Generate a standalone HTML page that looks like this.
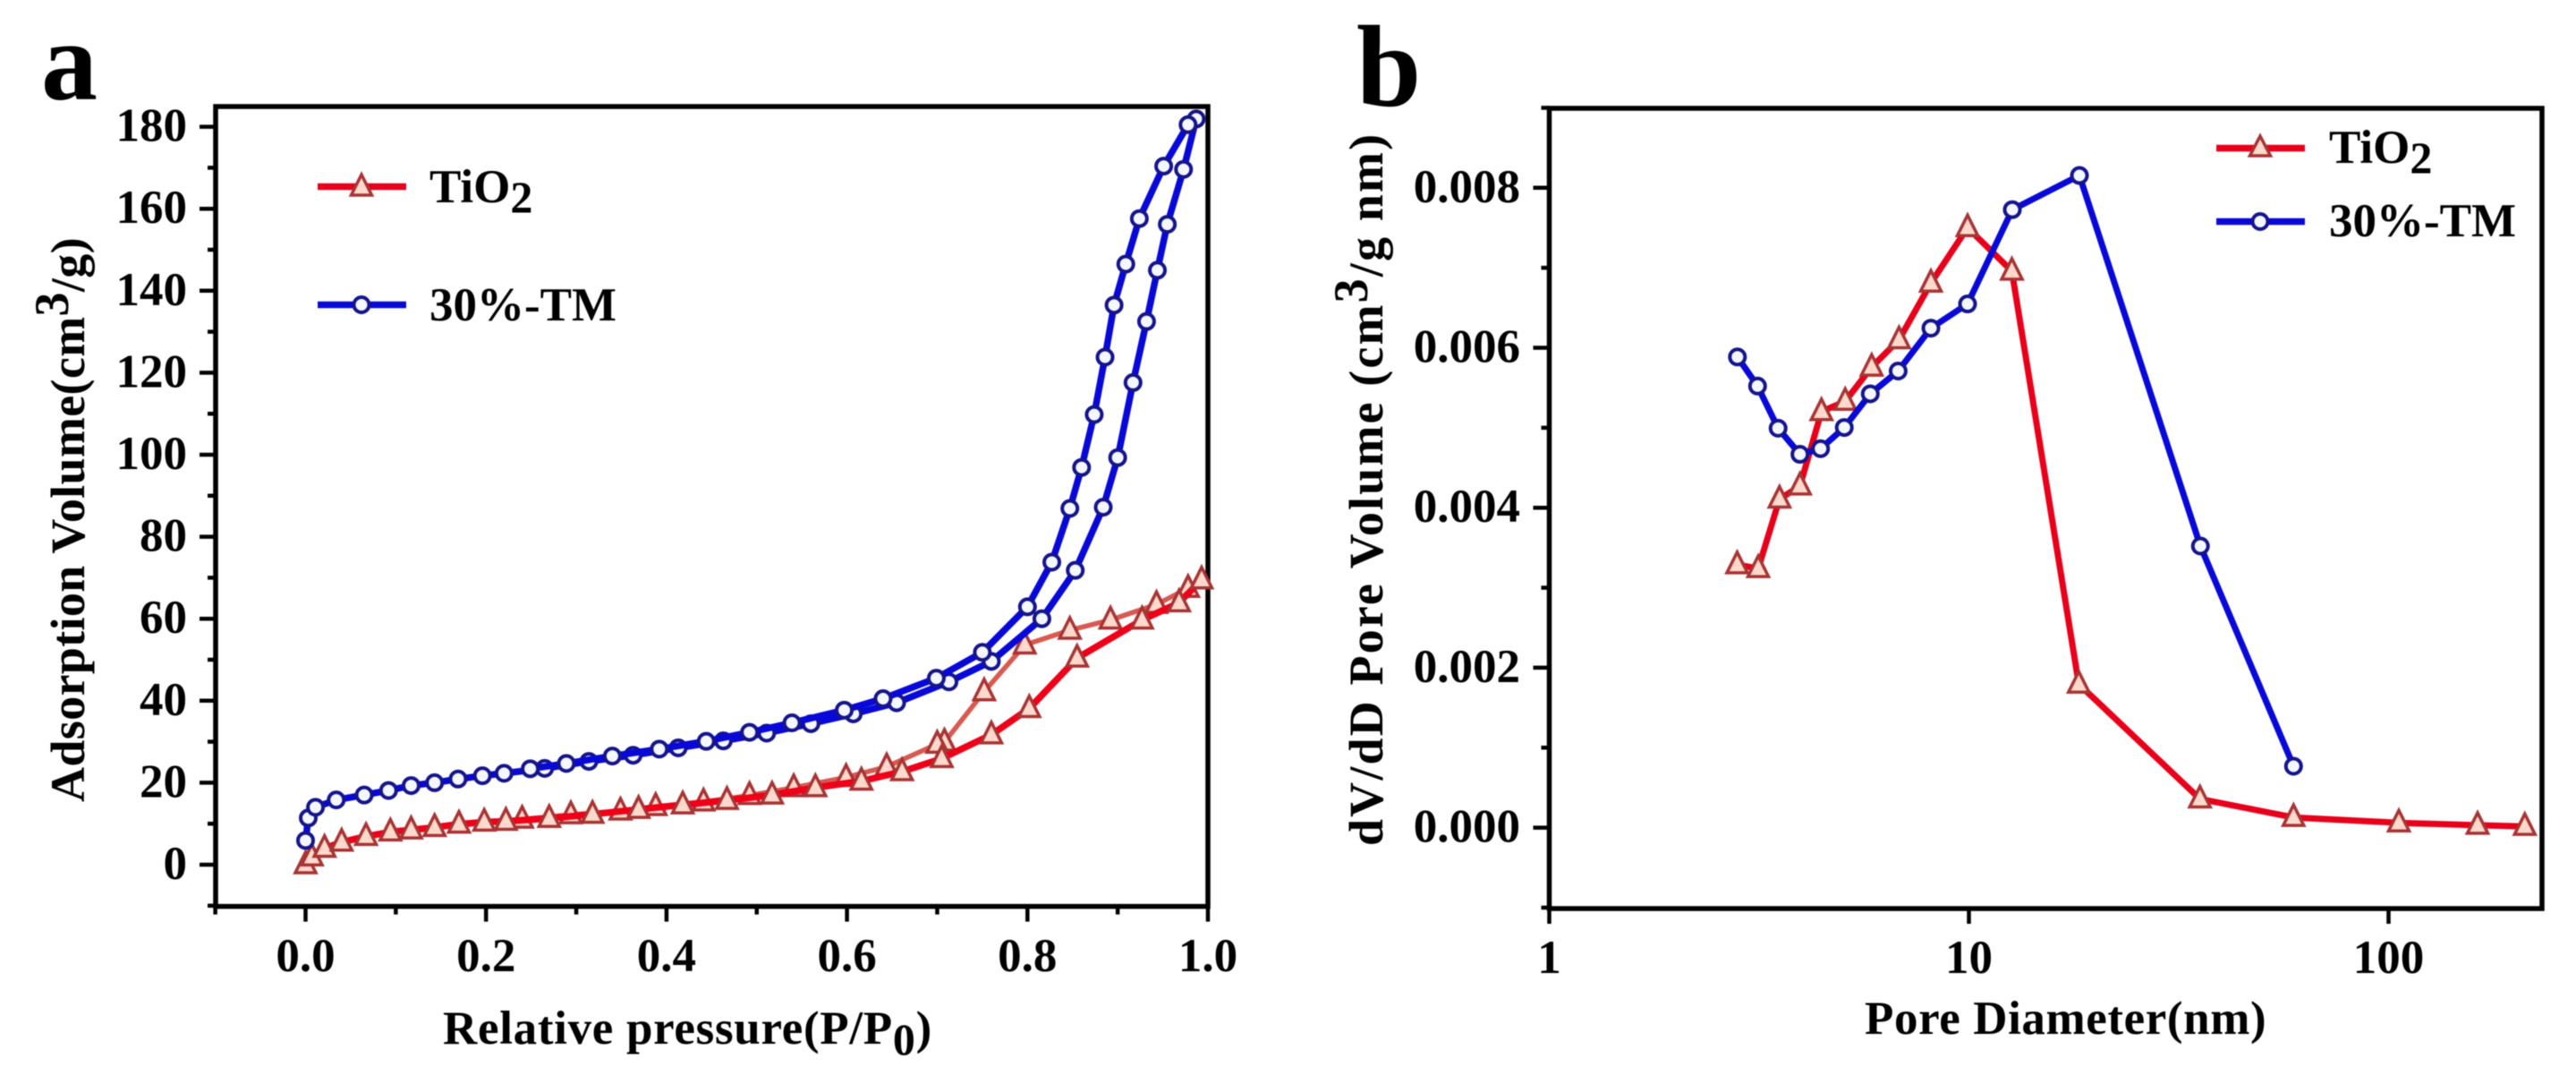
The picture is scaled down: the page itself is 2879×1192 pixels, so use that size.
<!DOCTYPE html>
<html lang="en">
<head>
<meta charset="utf-8">
<title>Adsorption isotherms and pore size distribution</title>
<style>
html,body{margin:0;padding:0;background:#fff;}
svg{display:block;filter:blur(0.6px);}
text{font-family:"Liberation Serif","DejaVu Serif",serif;font-weight:bold;fill:#000;}
</style>
</head>
<body>
<svg id="figure" xmlns="http://www.w3.org/2000/svg" width="2879" height="1192" viewBox="0 0 2879 1192">
  <rect x="0" y="0" width="2879" height="1192" fill="#ffffff"/>
  <text x="46" y="111" font-size="126">a</text>
  <text x="1516" y="118" font-size="130">b</text>

  <text x="495" y="1166" font-size="53" letter-spacing="0.7">Relative pressure(P/P<tspan dy="12" font-size="50">0</tspan><tspan dy="-12">)</tspan></text>
  <text transform="translate(94 896) rotate(-90)" font-size="54" letter-spacing="0.35">Adsorption Volume(cm<tspan dy="-18">3</tspan><tspan dy="18">/g)</tspan></text>
  <text x="2084" y="1155" font-size="53" letter-spacing="0.6">Pore Diameter(nm)</text>
  <text transform="translate(1545 945) rotate(-90)" font-size="54" letter-spacing="2.15">dV/dD Pore Volume (cm<tspan dy="-17">3</tspan><tspan dy="17">/g nm)</tspan></text>

  <g id="panel-a"></g>
  <g id="panel-b"></g>

  <g>
    <g>
      <line x1="355" y1="208.5" x2="454" y2="208.5" stroke="#e8001a" stroke-width="7.5"/>
      <polygon points="404,195 415.5,218 392.5,218" fill="#ffd9cc" stroke="#a83434" stroke-width="3.5"/>
      <text x="480" y="226" font-size="53">TiO<tspan dy="11" font-size="50">2</tspan></text>
    </g>
    <g>
      <line x1="355" y1="340.5" x2="454" y2="340.5" stroke="#0808d8" stroke-width="7.5"/>
      <circle cx="404" cy="340.5" r="8.5" fill="#f5f7ff" stroke="#14148c" stroke-width="4"/>
      <text x="480" y="358" font-size="53">30%-TM</text>
    </g>
  </g>
  <g>
    <g>
      <line x1="2477" y1="165.5" x2="2576" y2="165.5" stroke="#e8001a" stroke-width="7.5"/>
      <polygon points="2526,152 2537.5,174 2514.5,174" fill="#ffd9cc" stroke="#a83434" stroke-width="3.5"/>
      <text x="2603" y="182" font-size="53">TiO<tspan dy="11" font-size="50">2</tspan></text>
    </g>
    <g>
      <line x1="2477" y1="247.5" x2="2576" y2="247.5" stroke="#0808d8" stroke-width="7.5"/>
      <circle cx="2526" cy="247.5" r="8.5" fill="#f5f7ff" stroke="#14148c" stroke-width="4"/>
      <text x="2603" y="264" font-size="53">30%-TM</text>
    </g>
  </g>
</svg>
<script>
// Panel a: tick values and labels
const isoXMajor = [0, 0.2, 0.4, 0.6, 0.8, 1.0];
const isoXLabels = ['0.0', '0.2', '0.4', '0.6', '0.8', '1.0'];
const isoXMinor = [-0.1, 0.1, 0.3, 0.5, 0.7, 0.9];
const isoYMajor = [0, 20, 40, 60, 80, 100, 120, 140, 160, 180];
const isoYLabels = ['0', '20', '40', '60', '80', '100', '120', '140', '160', '180'];
const isoYMinor = [-10, 10, 30, 50, 70, 90, 110, 130, 150, 170];

// Panel a: TiO2 adsorption / desorption
const tio2AdsP = [0.000, 0.007, 0.021, 0.040, 0.067, 0.094, 0.117, 0.143, 0.170, 0.198, 0.222, 0.270, 0.318, 0.369, 0.418, 0.467, 0.517, 0.565, 0.616, 0.661, 0.705, 0.760, 0.802, 0.855, 0.927, 0.968, 0.993];
const tio2AdsV = [0.0, 1.9, 4.0, 5.5, 6.9, 8.0, 8.5, 9.1, 9.9, 10.4, 10.6, 11.3, 12.3, 13.5, 14.6, 15.7, 17.0, 18.8, 20.4, 22.7, 25.9, 31.7, 38.1, 50.4, 59.7, 63.9, 69.5];
const tio2DesP = [0.978, 0.943, 0.892, 0.847, 0.797, 0.752, 0.708, 0.700, 0.644, 0.599, 0.541, 0.492, 0.441, 0.388, 0.349, 0.294, 0.240];
const tio2DesV = [67.4, 63.5, 59.7, 57.2, 53.6, 42.2, 29.9, 29.4, 23.9, 21.3, 18.8, 16.9, 15.3, 14.2, 13.1, 12.2, 11.1];

// Panel a: 30%-TM adsorption / desorption
const tmAdsP = [0.000, 0.003, 0.011, 0.034, 0.065, 0.092, 0.117, 0.143, 0.169, 0.196, 0.220, 0.265, 0.314, 0.363, 0.413, 0.463, 0.511, 0.560, 0.607, 0.655, 0.713, 0.760, 0.816, 0.853, 0.884, 0.900, 0.917, 0.932, 0.944, 0.955, 0.973, 0.987];
const tmAdsV = [5.9, 11.4, 14.0, 15.8, 17.0, 18.1, 19.3, 20.0, 20.9, 21.7, 22.3, 23.5, 25.2, 26.7, 28.5, 30.2, 32.1, 34.4, 36.8, 39.5, 44.6, 49.6, 60.0, 71.8, 87.2, 99.3, 117.6, 132.5, 145.0, 156.2, 169.6, 181.9];
const tmDesP = [0.978, 0.951, 0.924, 0.909, 0.896, 0.886, 0.874, 0.860, 0.847, 0.827, 0.800, 0.750, 0.699, 0.640, 0.597, 0.539, 0.492, 0.444, 0.392, 0.340, 0.289, 0.249];
const tmDesV = [180.5, 170.4, 157.6, 146.5, 136.5, 123.8, 109.8, 96.9, 86.9, 73.8, 62.9, 51.8, 45.5, 40.5, 37.7, 34.6, 32.3, 30.1, 28.2, 26.5, 24.7, 23.4];

// Panel b: tick values and labels
const poreXMajor = [1, 10, 100];
const poreXLabels = ['1', '10', '100'];
const poreYMajor = [0, 0.002, 0.004, 0.006, 0.008];
const poreYLabels = ['0.000', '0.002', '0.004', '0.006', '0.008'];
const poreYMinor = [-0.001, 0.001, 0.003, 0.005, 0.007, 0.009];

// Panel b: pore size distributions
const tio2PoreD = [2.804, 3.147, 3.537, 3.957, 4.453, 5.072, 5.865, 6.815, 8.118, 9.926, 12.66, 18.27, 35.53, 59.37, 105.8, 163, 211.2];
const tio2PoreV = [0.003288, 0.003240, 0.004108, 0.004272, 0.005202, 0.005331, 0.005758, 0.006101, 0.006808, 0.007502, 0.006958, 0.001795, 0.000359, 0.000128, 0.000060, 0.000030, 0.000016];
const tmPoreD = [2.808, 3.136, 3.510, 3.957, 4.431, 5.047, 5.821, 6.783, 8.118, 9.926, 12.69, 18.34, 35.62, 59.37];
const tmPoreV = [0.005885, 0.005521, 0.004994, 0.004668, 0.004738, 0.005003, 0.005424, 0.005709, 0.006245, 0.006548, 0.007727, 0.008154, 0.003521, 0.000768];

// Axis functions
const isoBox = {left: 241, right: 1350, top: 119, bottom: 1012.6};
const poreBox = {left: 1731.5, right: 2841, top: 121, bottom: 1015};
function isoX(p) { return 341.5 + p * 1008.5; }
function isoY(v) { return 966 - v * 4.58; }
function poreX(d) { return 1731.5 + Math.log10(d) * 469; }
function poreY(v) { return 924.6 - v * 89350; }

const NS = 'http://www.w3.org/2000/svg';
function make(tag, attrs, parent) {
  const node = document.createElementNS(NS, tag);
  for (const key in attrs) node.setAttribute(key, attrs[key]);
  parent.appendChild(node);
  return node;
}

function drawFrame(parent, box, prefix) {
  const frame = make('rect', {x: box.left, y: box.top, width: box.right - box.left, height: box.bottom - box.top, fill: 'none', stroke: '#000', 'stroke-width': 5.5}, parent);
  
  
}

function drawXTicks(parent, box, values, labels, scale, length, baseline, prefix) {
  values.forEach(function (value, i) {
    const px = scale(value);
    const tick = make('line', {x1: px, x2: px, y1: box.bottom, y2: box.bottom + length, stroke: '#000', 'stroke-width': 4.5}, parent);
    
    
    if (labels) {
      const label = make('text', {x: px, y: baseline, 'font-size': 53, 'text-anchor': 'middle'}, parent);
      label.textContent = labels[i];
      
      
    }
  });
}

function drawYTicks(parent, box, values, labels, scale, length, labelRight, prefix) {
  values.forEach(function (value, i) {
    const py = scale(value);
    const tick = make('line', {x1: box.left - length, x2: box.left, y1: py, y2: py, stroke: '#000', 'stroke-width': 4.5}, parent);
    
    
    if (labels) {
      const label = make('text', {x: labelRight, y: py + 16, 'font-size': 53, 'text-anchor': 'end'}, parent);
      label.textContent = labels[i];
      
      
    }
  });
}

function drawSeries(parent, xs, ys, scaleX, scaleY, color, width, marker, name) {
  const points = xs.map(function (x, i) { return scaleX(x).toFixed(1) + ',' + scaleY(ys[i]).toFixed(1); }).join(' ');
  const line = make('polyline', {points: points, fill: 'none', stroke: color, 'stroke-width': width, 'stroke-linejoin': 'round'}, parent);
  
  
  xs.forEach(function (x, i) {
    const px = scaleX(x);
    const py = scaleY(ys[i]);
    let mark;
    if (marker === 'triangle') {
      mark = make('polygon', {points: px + ',' + (py - 14) + ' ' + (px + 11.5) + ',' + (py + 9) + ' ' + (px - 11.5) + ',' + (py + 9), fill: '#ffd9cc', stroke: '#a83434', 'stroke-width': 3.5}, parent);
    } else {
      mark = make('circle', {cx: px, cy: py, r: 8.5, fill: '#f5f7ff', stroke: '#14148c', 'stroke-width': 4}, parent);
    }
    
    
  });
}

const panelA = document.getElementById('panel-a');
drawYTicks(panelA, isoBox, isoYMinor, null, isoY, 9, 0, 'isotherm-minor');
drawYTicks(panelA, isoBox, isoYMajor, isoYLabels, isoY, 18, 209, 'isotherm');
drawXTicks(panelA, isoBox, isoXMinor, null, isoX, 9, 0, 'isotherm-minor');
drawXTicks(panelA, isoBox, isoXMajor, isoXLabels, isoX, 17, 1085, 'isotherm');
drawFrame(panelA, isoBox, 'isotherm');
drawSeries(panelA, tio2DesP, tio2DesV, isoX, isoY, '#d85a50', 5.5, 'triangle', 'tio2-desorption');
drawSeries(panelA, tio2AdsP, tio2AdsV, isoX, isoY, '#f00018', 7.5, 'triangle', 'tio2-adsorption');
drawSeries(panelA, tmAdsP, tmAdsV, isoX, isoY, '#0808d8', 7.5, 'circle', 'tm-adsorption');
drawSeries(panelA, tmDesP, tmDesV, isoX, isoY, '#0808d8', 7.5, 'circle', 'tm-desorption');

const panelB = document.getElementById('panel-b');
drawYTicks(panelB, poreBox, poreYMinor, null, poreY, 9, 0, 'pore-minor');
drawYTicks(panelB, poreBox, poreYMajor, poreYLabels, poreY, 18, 1699, 'pore');
drawXTicks(panelB, poreBox, poreXMajor, poreXLabels, poreX, 17, 1087, 'pore');
drawFrame(panelB, poreBox, 'pore');
drawSeries(panelB, tio2PoreD, tio2PoreV, poreX, poreY, '#e8001a', 7, 'triangle', 'tio2-pore');
drawSeries(panelB, tmPoreD, tmPoreV, poreX, poreY, '#0808d8', 7, 'circle', 'tm-pore');
</script>
</body>
</html>
